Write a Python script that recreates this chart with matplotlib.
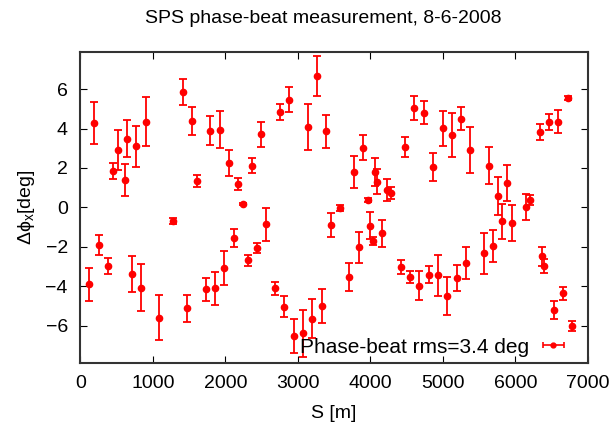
import matplotlib
matplotlib.use("Agg")
import matplotlib.pyplot as plt
import numpy as np

# SPS phase-beat data
s_pos = [124, 258, 386, 709, 837, 1090, 1283, 1476, 1730, 1858, 1986, 2116, 2240, 2309, 2433,
         193, 451, 516, 612, 644, 772, 902, 1412, 1541, 1606, 1793, 1927, 2051, 2179, 2372, 2492,
         2754, 2883, 3141, 3265, 3393, 3775, 3903, 4069, 4097, 4226, 4286, 4479, 4608, 4737,
         4869, 4998, 5127, 5255, 5379, 5633, 5761, 5890, 6337, 6465, 6593, 6723,
         2561, 2686, 2814, 2943, 3072, 3200, 3329, 3458, 3582, 3711, 3840, 3970, 4000, 4033, 4166,
         4423, 4552, 4676, 4805, 4934, 5062, 5191, 5315, 5572, 5697, 5821, 5955, 6143, 6207,
         6372, 6400, 6530, 6658, 6786]
dphi = [-3.90, -1.92, -2.97, -3.39, -4.07, -5.61, -0.70, -5.13, -4.17, -4.12, -3.07, -1.56, 0.15, -2.69, -2.07,
        4.29, 1.86, 2.91, 1.39, 3.49, 3.10, 4.35, 5.86, 4.39, 1.34, 3.89, 3.95, 2.25, 1.17, 2.11, 3.71,
        4.84, 5.47, 4.08, 6.66, 3.86, 1.79, 3.03, 1.81, 1.31, 0.88, 0.73, 3.07, 5.03, 4.81,
        2.05, 4.02, 3.68, 4.50, 2.91, 2.11, 0.57, 1.24, 3.84, 4.32, 4.34, 5.54,
        -0.85, -4.12, -5.05, -6.51, -6.40, -5.66, -5.02, -0.90, -0.05, -3.54, -2.03, 0.36, -0.94, -1.71, -1.32,
        -3.02, -3.53, -3.97, -3.41, -3.46, -4.52, -3.58, -2.82, -2.34, -1.95, -0.70, -0.80, 0.02, 0.37,
        -2.49, -2.97, -5.22, -4.36, -6.03]
err = [0.83, 0.52, 0.40, 0.92, 1.17, 1.14, 0.17, 0.67, 0.59, 0.84, 0.87, 0.47, 0.05, 0.27, 0.25,
       1.05, 0.41, 1.02, 0.81, 0.93, 1.03, 1.25, 0.65, 0.70, 0.29, 0.74, 0.96, 0.66, 0.30, 0.37, 0.64,
       0.40, 0.62, 1.16, 1.03, 0.83, 0.82, 0.62, 0.72, 0.64, 0.56, 0.32, 0.49, 0.60, 0.58,
       0.69, 0.89, 1.10, 0.58, 1.19, 0.93, 0.97, 0.92, 0.41, 0.40, 0.58, 0.10,
       0.84, 0.35, 0.53, 0.86, 1.19, 0.99, 0.86, 0.59, 0.15, 0.72, 0.80, 0.10, 0.69, 0.20, 0.68,
       0.35, 0.30, 0.74, 0.42, 1.03, 0.97, 0.67, 0.80, 1.05, 0.81, 0.89, 0.92, 0.68, 0.25,
       0.47, 0.35, 0.47, 0.33, 0.26]
legend_label = 'Phase-beat rms=3.4 deg'

plt.rcParams['font.family'] = ['Liberation Sans', 'DejaVu Sans']
plt.rcParams['mathtext.fontset'] = 'custom'
plt.rcParams['mathtext.rm'] = 'Liberation Sans'
plt.rcParams['mathtext.it'] = 'Liberation Sans'

fig = plt.figure(figsize=(6.13, 4.24), dpi=100)
ax = fig.add_axes([0.131, 0.144, 0.828, 0.734])

ax.errorbar(s_pos, dphi, yerr=err, fmt='o', color='red', ms=4.5, elinewidth=1.3,
            capsize=3, capthick=1.3)

# key sample in gnuplot style: point with horizontal error bar (not drawn in the plot area)
proxy = ax.errorbar([np.nan], [np.nan], xerr=[1.0], fmt='o', color='red', ms=3.5,
                    elinewidth=1.2, capsize=2.5, capthick=1.2)

ax.set_xlim(0, 7000)
ax.set_ylim(-7.9, 7.9)
ax.set_xticks(range(0, 7001, 1000))
ax.set_yticks([-6, -4, -2, 0, 2, 4, 6])
ax.tick_params(direction='in', top=True, right=True, length=5, labelsize=14, pad=9)
for sp in ax.spines.values():
    sp.set_linewidth(1.5)
    sp.set_color('#333333')

fig.text(0.528, 0.957, 'SPS phase-beat measurement, 8-6-2008', fontsize=14,
         ha='center', va='center')
ax.set_xlabel('S [m]', fontsize=14, labelpad=9)
ax.set_ylabel(r'$\Delta\mathrm{\phi}_{\mathrm{x}}$[deg]', fontsize=14, labelpad=6)

ax.legend([proxy], [legend_label], loc='lower right', bbox_to_anchor=(0.963, 0.0),
          frameon=False, fontsize=15, markerfirst=False, handlelength=0.9,
          borderaxespad=0.0, handletextpad=0.7, borderpad=0.3)

fig.savefig('out.png', dpi=100)
